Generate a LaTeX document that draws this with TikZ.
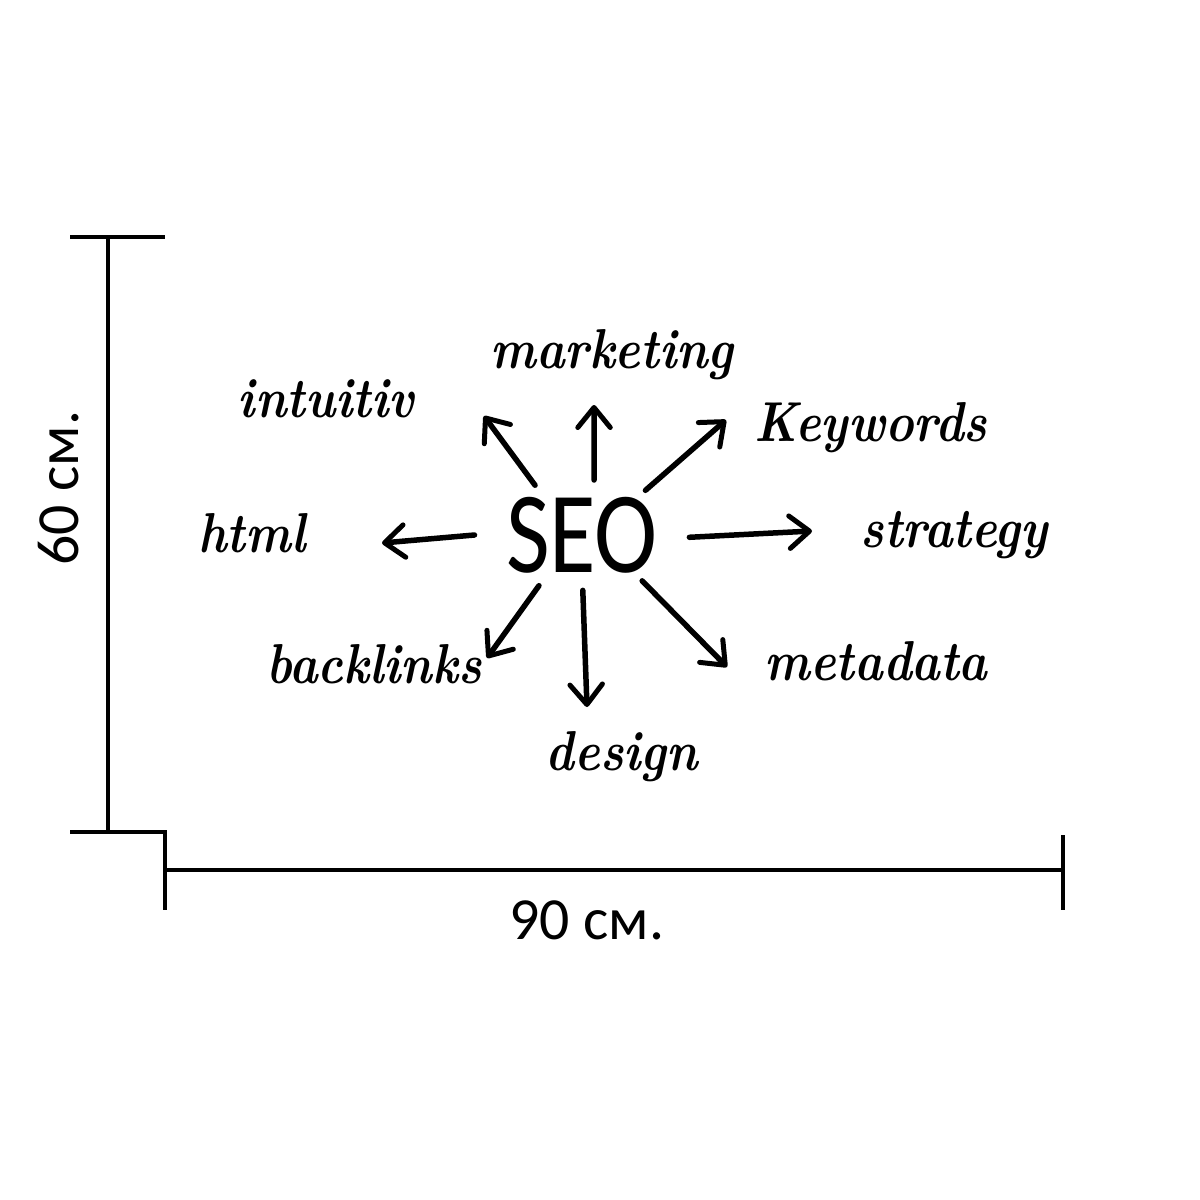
\documentclass[tikz,border=0pt]{standalone}
\usepackage{fontspec}
\newfontfamily\dimfont{Carlito}
\usetikzlibrary{arrows.meta,shapes.geometric}

\begin{document}
\begin{tikzpicture}[x=0.02cm,y=-0.02cm,
	dimline/.style={line width=0.08cm},
	dimtext/.style={font=\dimfont\fontsize{34}{34}\selectfont, inner sep=0pt},
	word/.style={font=\bfseries\itshape\fontsize{32}{32}\selectfont, inner sep=0pt, anchor=base, xscale=0.86},
	hand/.style={line width=0.11cm, line cap=round,
		-{Straight Barb[length=0.4cm,width=0.65cm,line width=0.1cm,round]}}]
\useasboundingbox (0,0) rectangle (1200,1200);
\fill[white] (0,0) rectangle (1200,1200);

% size marks
\draw[dimline] (70,237) -- (165,237) (108,237) -- (108,832) (70,832) -- (165,832) -- (165,910)
	(165,870) -- (1063,870) (1063,835) -- (1063,910);
\node[dimtext, rotate=90] (height) at (59,488) {60 см.};
\node[dimtext] (width) at (587,920) {90 см.};

% mind map
\node[ellipse, minimum width=3.8cm, minimum height=2.2cm, inner sep=0pt,
	font=\dimfont\fontsize{66}{66}\selectfont, xscale=0.82] (seo) at (582,535) {SEO};
\node[word] (mkt) at (612,368) {marketing};
\node[word] (int) at (326,417) {intuitiv};
\node[word] (kw) at (871,441) {Keywords};
\node[word] (html) at (252,552) {html};
\node[word] (strat) at (954,547) {strategy};
\node[word] (back) at (374,683) {backlinks};
\node[word] (meta) at (876,680) {metadata};
\node[word] (des) at (622,770) {design};

\coordinate (int-tip) at (484,416);
\coordinate (mkt-tip) at (594,405);
\coordinate (kw-tip) at (726,420);
\coordinate (html-tip) at (382,543);
\coordinate (strat-tip) at (812,531);
\coordinate (back-tip) at (487,658);
\coordinate (des-tip) at (587,707);
\coordinate (meta-tip) at (727,667);

\path[hand]
(seo.139) edge (int-tip)
(seo.75) edge (mkt-tip)
(seo.30) edge (kw-tip)
(seo.180) edge (html-tip)
(seo.-1) edge (strat-tip)
(seo.224) edge (back-tip)
(seo.271) edge (des-tip)
(seo.328) edge (meta-tip)
;
\end{tikzpicture}
\end{document}
